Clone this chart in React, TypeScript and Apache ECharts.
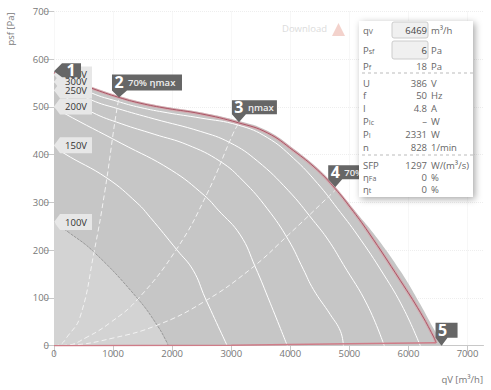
import React, { useEffect, useRef } from "react";
import * as echarts from "echarts";

const FONT = '"Open Sans", sans-serif';

const xTicks = [0, 1000, 2000, 3000, 4000, 5000, 6000, 7000];
const envelope = [[0,575],[300,559],[644,542],[1100,523],[1458,511],[1915,500],[2475,489],[3120,471],[3610,450],[4050,413],[4460,372],[4760,333],[5130,277],[5410,235],[5860,157],[6200,87],[6420,37],[6590,0]];
const v386 = [[0,572],[300,556],[644,539],[1100,520],[1458,508],[1915,497],[2475,486],[3120,467],[3610,446],[4050,409],[4460,368],[4760,329],[5020,289],[5320,238],[5860,137],[6200,70],[6420,20],[6469,6]];
const operating = [[0,0],[3000,1],[5000,4],[6469,6]];
const v350 = [[0,568],[644,529],[1068,512],[1458,499],[1915,488],[2475,477],[3120,462],[3610,436],[4050,393],[4460,340],[4800,287],[5135,232],[5576,150],[5915,78],[6200,0]];
const v300 = [[0,553],[644,514],[1068,497],[1695,475],[2475,449],[2983,425],[3441,387],[3966,325],[4390,262],[4644,221],[4898,170],[5305,85],[5590,0]];
const v250 = [[0,535],[644,489],[1136,465],[1695,443],[2254,421],[2814,386],[3203,345],[3610,287],[3966,222],[4220,160],[4390,118],[4678,65],[4850,30],[4898,0]];
const v200 = [[0,501],[169,487],[1136,424],[1983,368],[2542,315],[2780,284],[3153,232],[3407,165],[3661,89],[3949,0]];
const v150 = [[0,420],[169,403],[898,351],[1407,299],[1627,269],[2085,200],[2356,158],[2559,100],[2932,0]];
const v100 = [[0,259],[220,240],[678,196],[1407,100],[1746,43],[1915,6],[1930,0]];
const system2 = [[0,0],[100,2],[220,18],[441,60],[678,196],[864,326],[1034,472],[1100,520]];
const system3 = [[0,0],[220,1],[559,18],[949,48],[1407,96],[2085,204],[2593,319],[3034,445],[3136,468]];
const system4 = [[0,0],[271,1],[1000,16],[1746,43],[2525,91],[3322,160],[3966,232],[4763,326]];

const voltageLabels = ["350V", "300V", "250V", "200V", "150V", "100V"];
const voltageTagY = [568, 553, 535, 501, 420, 259];

const calloutNames = ["1", "2", "3", "4", "5"];
const calloutTexts = ["", "70% ηmax", "ηmax", "70% ηmax", ""];
const calloutPoints = [[0,575],[1100,520],[3130,468],[4760,332],[6560,0]];

const panelRows = [
  ["{m|q}{s|V}", "", "m³/h"],
  ["{m|P}{s|sf}", "", "Pa"],
  ["{m|P}{s|f}", "18", "Pa"],
  ["{m|U}", "386", "V"],
  ["{m|f}", "50", "Hz"],
  ["{m|I}", "4.8", "A"],
  ["{m|P}{s|Ic}", "–", "W"],
  ["{m|P}{s|I}", "2331", "W"],
  ["{m|n}", "828", "1/min"],
  ["{m|SFP}", "1297", "W/(m³/s)"],
  ["{m|η}{s|Fa}", "0", "%"],
  ["{m|η}{s|t}", "0", "%"],
];
const panelRowY = [30, 50, 66, 83, 95, 108, 121, 134, 147, 165, 177, 189];
const inputValues = ["6469", "6"];

const SMOOTH = 0.45;

function whiteLine(name: string, data: number[][]) {
  return { type: "line", name, data, z: 3, showSymbol: false, smooth: SMOOTH, silent: true,
    lineStyle: { color: "#fff", width: 1 } };
}
function dashLine(name: string, data: number[][]) {
  return { type: "line", name, data, z: 4, showSymbol: false, smooth: SMOOTH, silent: true,
    lineStyle: { color: "#f2f2f2", width: 1, type: [5, 3] } };
}

function calloutPolygon(i: number): number[][] {
  if (i === 0) return [[0,0],[8,-8],[27,-8],[27,6],[8,6]];
  if (i === 1) return [[0,0],[-7,-7],[-7,-23],[63,-23],[63,-7],[8,-7]];
  if (i === 2) return [[0,0],[-7,-8],[-7,-22],[38,-22],[38,-8],[7,-8]];
  if (i === 3) return [[0,0],[-7,-8],[-7,-22],[60,-22],[60,-8],[7,-8]];
  return [[0,0],[-6,-8],[-6,-23],[16,-23],[16,-8],[6,-8]];
}
function renderCallout(params: any, api: any) {
  const i = params.dataIndex;
  const [cx, cy] = api.coord([api.value(0), api.value(1)]);
  const poly = calloutPolygon(i);
  const xs = poly.map((p) => p[0]);
  const ys = poly.map((p) => p[1]);
  const left = i === 0 ? 8 : Math.min(...xs);
  const midY = i === 0 ? -1 : (Math.min(...ys) + (i === 1 ? -7 : -8)) / 2;
  return {
    type: "group", x: cx, y: cy,
    children: [
      { type: "polygon", shape: { points: poly }, style: { fill: "#666" } },
      { type: "text", x: left + (i === 0 ? 9 : 7), y: midY, style: { text: calloutNames[i], fill: "#fff", font: `bold 16px ${FONT}`, align: "center", verticalAlign: "middle" } },
      { type: "text", x: left + 16, y: midY, style: { text: calloutTexts[i], fill: "#eee", font: `600 9.5px ${FONT}`, align: "left", verticalAlign: "middle" } },
    ],
  };
}
function renderTag(params: any, api: any) {
  const [cx, cy] = api.coord([api.value(0), api.value(1)]);
  return { type: "polygon", x: cx, y: cy, shape: { points: [[0,0],[6,-8],[38,-8],[38,8],[6,8]] }, style: { fill: "#e7e7e7" } };
}
function renderTagText(params: any, api: any) {
  const i = params.dataIndex;
  const [cx, cy] = api.coord([api.value(0), api.value(1)]);
  return { type: "text", x: cx + 22, y: cy, style: { text: voltageLabels[i], fill: "#333", font: `9.5px ${FONT}`, align: "center", verticalAlign: "middle" } };
}

function panelGraphics() {
  const z = 100;
  const out: any[] = [
    { type: "text", x: 327, y: 28, z, style: { text: "Download", fill: "#dcdcdc", font: `9.5px ${FONT}`, align: "right", verticalAlign: "middle" } },
    { type: "polygon", z, shape: { points: [[338.5,23],[345,36],[332,36]] }, style: { fill: "#f3d2cc" } },
    { type: "rect", z, shape: { x: 359, y: 21, width: 114, height: 176 }, style: { fill: "#fff", shadowBlur: 7, shadowColor: "rgba(0,0,0,0.35)", shadowOffsetX: 2, shadowOffsetY: 2 } },
    { type: "rect", z, shape: { x: 392, y: 22, width: 36, height: 16, r: 2 }, style: { fill: "#f0f0f0", stroke: "#ccc", lineWidth: 1 } },
    { type: "rect", z, shape: { x: 392, y: 41, width: 36, height: 18, r: 2 }, style: { fill: "#f0f0f0", stroke: "#ccc", lineWidth: 1 } },
    { type: "line", z, shape: { x1: 362, y1: 73, x2: 476, y2: 73 }, style: { stroke: "#bbb", lineWidth: 1, lineDash: [3, 3] } },
    { type: "line", z, shape: { x1: 362, y1: 155, x2: 476, y2: 155 }, style: { stroke: "#bbb", lineWidth: 1, lineDash: [3, 3] } },
  ];
  panelRows.forEach((row, i) => {
    const y = panelRowY[i];
    out.push({ type: "text", x: 363, y, z, style: { text: row[0], verticalAlign: "middle", rich: {
      m: { font: `9.5px ${FONT}`, fill: "#666" },
      s: { font: `7px ${FONT}`, fill: "#666", padding: [3, 0, 0, 0] },
    } } });
    const value = i < 2 ? inputValues[i] : row[1];
    out.push({ type: "text", x: 427, y, z, style: { text: value, fill: i < 2 ? "#444" : "#666", font: `9.5px ${FONT}`, align: "right", verticalAlign: "middle" } });
    out.push({ type: "text", x: 431, y, z, style: { text: row[2], fill: "#666", font: `9.5px ${FONT}`, align: "left", verticalAlign: "middle" } });
  });
  out.push({ type: "text", x: 10, y: 29, rotation: Math.PI / 2, z, style: { text: "psf [Pa]", fill: "#777", font: `9.5px ${FONT}`, align: "center", verticalAlign: "middle" } });
  out.push({ type: "text", x: 483, y: 379, z, style: { text: "qV [m³/h]", fill: "#777", font: `9.5px ${FONT}`, align: "right", verticalAlign: "middle" } });
  return out;
}

export default function App() {
  const ref = useRef<HTMLDivElement>(null);
  useEffect(() => {
    const chart = echarts.init(ref.current!, null, { renderer: "svg" });
    chart.setOption({
      animation: false,
      backgroundColor: "#fff",
      grid: { left: 54, top: 11.5, right: 7.5, bottom: 44.3 },
      xAxis: {
        type: "value", min: 0, max: 7270,
        axisLine: { lineStyle: { color: "#c8c8c8" } },
        axisTick: { length: 9, lineStyle: { color: "#c8c8c8" }, customValues: xTicks },
        axisLabel: { color: "#777", fontSize: 9.5, fontFamily: FONT, margin: 3, customValues: xTicks, formatter: (v: number) => String(v) },
        splitLine: { show: true, lineStyle: { color: "#eee", type: "dotted" } },
      },
      yAxis: {
        type: "value", min: 0, max: 700, interval: 100,
        axisLine: { show: false },
        axisTick: { show: true, length: 10, lineStyle: { color: "#c8c8c8" } },
        axisLabel: { color: "#777", fontSize: 9.5, fontFamily: FONT, margin: 5 },
        splitLine: { show: true, lineStyle: { color: "#eee", type: "dotted" } },
      },
      graphic: { elements: panelGraphics() },
      series: [
        { type: "line", name: "envelope", data: envelope, z: 1, showSymbol: false, smooth: SMOOTH, silent: true, lineStyle: { width: 0 }, areaStyle: { color: "#c6c6c6", opacity: 1 } },
        { type: "line", name: "100V", data: v100, z: 2, showSymbol: false, smooth: SMOOTH, silent: true, lineStyle: { color: "#999", width: 1, type: [3, 1] }, areaStyle: { color: "#d3d3d3", opacity: 1 } },
        whiteLine("350V", v350), whiteLine("300V", v300), whiteLine("250V", v250), whiteLine("200V", v200), whiteLine("150V", v150),
        dashLine("system 2", system2), dashLine("system 3", system3), dashLine("system 4", system4),
        { type: "line", name: "386V band", data: v386, z: 5, showSymbol: false, smooth: SMOOTH, silent: true, lineStyle: { color: "rgba(225,140,150,0.45)", width: 3 } },
        { type: "line", name: "386V", data: v386, z: 5, showSymbol: false, smooth: SMOOTH, silent: true, lineStyle: { color: "#aa5565", width: 1 } },
        { type: "line", name: "operating", data: operating, z: 5, showSymbol: false, silent: true, lineStyle: { color: "#cf7c88", width: 1.5 } },
        { type: "custom", name: "tags", z: 6, silent: true, clip: false, data: voltageTagY.map((y) => [0, y]), encode: { x: 0, y: 1 }, renderItem: renderTag },
        { type: "custom", name: "tag labels", z: 6, silent: true, clip: false, data: voltageTagY.map((y) => [0, y]), encode: { x: 0, y: 1 }, renderItem: renderTagText },
        { type: "custom", name: "callouts", z: 7, silent: true, clip: false, data: calloutPoints, encode: { x: 0, y: 1 }, renderItem: renderCallout },
      ],
    });
    return () => chart.dispose();
  }, []);
  return <div ref={ref} style={{ position: "fixed", left: 0, top: 0, width: 491, height: 390 }} />;
}
